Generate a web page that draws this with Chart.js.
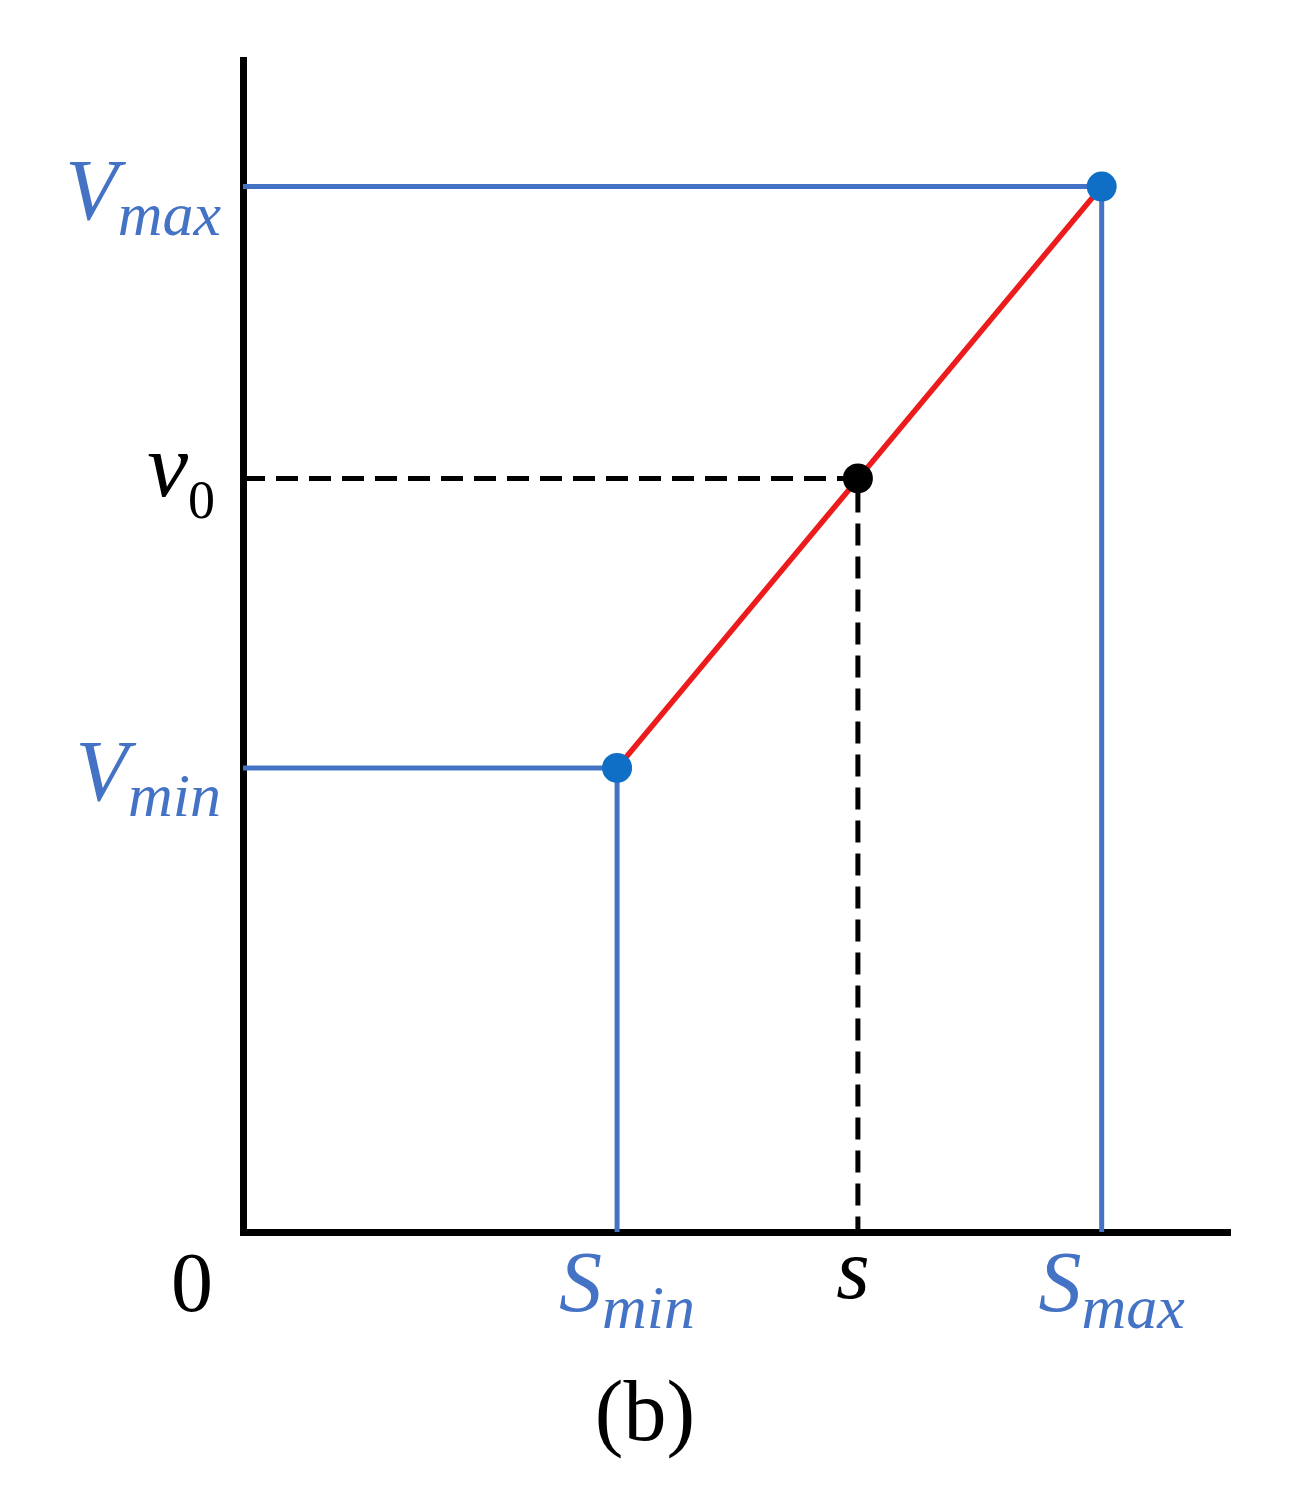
<!DOCTYPE html>
<html lang="en">
<head>
    <meta charset="UTF-8">
    <title>Threshold mapping (b)</title>
    <script src="https://cdn.jsdelivr.net/npm/chart.js@4.4.1/dist/chart.umd.min.js"></script>
    <style>
        body { margin: 0; background: #fff; }
        canvas { display: block; }
    </style>
</head>
<body>
    <canvas id="chart" width="1296" height="1506"></canvas>

    <script>
        // values, axes run 0..100
        const sMin = 37.9, s = 62.3, sMax = 87.0;
        const vMin = 39.6, v0 = 64.3, vMax = 89.2;

        // tick labels (main letter + subscript)
        const xTickValues = [0, sMin, s, sMax];
        const xTickMain = ['0', 'S', 's', 'S'];
        const xTickSub = ['', 'min', '', 'max'];
        const yTickValues = [vMax, v0, vMin];
        const yTickMain = ['V', 'v', 'V'];
        const yTickSub = ['max', '0', 'min'];
        const caption = '(b)';

        const blue = '#4472c4';
        const dotBlue = '#0f6fc6';
        const mainFont = 'italic 86px "Liberation Serif"';
        const subFont = 'italic 62px "Liberation Serif"';

        // draws the hand-set labels from the scales
        const labelPlugin = {
            id: 'labels',
            afterDraw(chart) {
                const ctx = chart.ctx;
                const xs = chart.scales.x, ys = chart.scales.y;
                const area = chart.chartArea;
                ctx.save();
                ctx.textBaseline = 'alphabetic';

                // y labels, right aligned against the axis
                yTickValues.forEach((v, i) => {
                    const py = ys.getPixelForValue(v);
                    const isV0 = yTickSub[i] === '0';
                    const sf = isV0 ? '54px "Liberation Serif"' : subFont;
                    const mf = isV0 ? 'italic 92px "Liberation Serif"' : mainFont;
                    ctx.font = sf;
                    const sw = ctx.measureText(yTickSub[i]).width;
                    ctx.font = mf;
                    const mw = ctx.measureText(yTickMain[i]).width;
                    const right = area.left - (isV0 ? 28 : 22);
                    ctx.fillStyle = isV0 ? '#000' : blue;
                    ctx.textAlign = 'left';
                    ctx.fillText(yTickMain[i], right - sw - mw, py + (isV0 ? 18 : 32));
                    ctx.font = sf;
                    ctx.fillText(yTickSub[i], right - sw, py + (isV0 ? 40 : 48));
                });

                // x labels, centred under their values
                xTickValues.forEach((v, i) => {
                    const px = xs.getPixelForValue(v);
                    const by = area.bottom;
                    ctx.textAlign = 'left';
                    if (xTickMain[i] === '0') {
                        ctx.fillStyle = '#000';
                        ctx.font = '84px "Liberation Serif"';
                        ctx.textAlign = 'center';
                        ctx.fillText('0', area.left - 51, by + 79);
                        return;
                    }
                    if (xTickSub[i] === '') {
                        ctx.fillStyle = '#000';
                        ctx.font = 'italic 86px "Liberation Serif"';
                        ctx.textAlign = 'center';
                        ctx.fillText(xTickMain[i], px - 5, by + 66);
                        return;
                    }
                    ctx.fillStyle = blue;
                    ctx.font = mainFont;
                    const mw = ctx.measureText(xTickMain[i]).width;
                    ctx.font = subFont;
                    const sw = ctx.measureText(xTickSub[i]).width;
                    const left = px + 10 - (mw + sw) / 2;
                    ctx.font = mainFont;
                    ctx.fillText(xTickMain[i], left, by + 79);
                    ctx.font = subFont;
                    ctx.fillText(xTickSub[i], left + mw, by + 96);
                });

                // caption
                ctx.fillStyle = '#000';
                ctx.font = '86px "Liberation Serif"';
                ctx.textAlign = 'center';
                ctx.fillText(caption, chart.width / 2 - 3, 1440);
                ctx.restore();
            }
        };

        const ctx = document.getElementById('chart').getContext('2d');
        new Chart(ctx, {
            type: 'scatter',
            data: {
                datasets: [
                    {
                        // end points
                        data: [{ x: sMin, y: vMin }, { x: sMax, y: vMax }],
                        backgroundColor: dotBlue,
                        borderWidth: 0,
                        pointRadius: 15,
                        showLine: false,
                        order: 0
                    },
                    {
                        data: [{ x: s, y: v0 }],
                        backgroundColor: '#000',
                        borderWidth: 0,
                        pointRadius: 15,
                        showLine: false,
                        order: 0
                    },
                    {
                        // mapping line
                        data: [{ x: sMin, y: vMin }, { x: sMax, y: vMax }],
                        borderColor: '#ec1c1c',
                        borderWidth: 5.5,
                        pointRadius: 0,
                        showLine: true,
                        order: 1
                    },
                    {
                        data: [{ x: 0, y: v0 }, { x: s, y: v0 }, { x: s, y: 0 }],
                        borderColor: '#000',
                        borderWidth: 5,
                        borderDash: [22, 11],
                        pointRadius: 0,
                        showLine: true,
                        order: 2
                    },
                    {
                        data: [{ x: 0, y: vMax }, { x: sMax, y: vMax }, { x: sMax, y: 0 }],
                        borderColor: blue,
                        borderWidth: 5,
                        pointRadius: 0,
                        showLine: true,
                        order: 3
                    },
                    {
                        data: [{ x: 0, y: vMin }, { x: sMin, y: vMin }, { x: sMin, y: 0 }],
                        borderColor: blue,
                        borderWidth: 5,
                        pointRadius: 0,
                        showLine: true,
                        order: 3
                    }
                ]
            },
            options: {
                responsive: false,
                animation: false,
                events: [],
                clip: false,
                layout: { padding: { left: 243, top: 60, right: 66, bottom: 274 } },
                plugins: {
                    legend: { display: false },
                    tooltip: { enabled: false }
                },
                scales: {
                    x: {
                        type: 'linear', min: 0, max: 100,
                        grid: { display: false, drawTicks: false },
                        ticks: { display: false },
                        border: { display: true, color: '#000', width: 7 },
                        afterFit(scale) { scale.height = 0; }
                    },
                    y: {
                        type: 'linear', min: 0, max: 100,
                        grid: { display: false, drawTicks: false },
                        ticks: { display: false },
                        border: { display: true, color: '#000', width: 7 },
                        afterFit(scale) { scale.width = 0; }
                    }
                }
            },
            plugins: [labelPlugin]
        });
    </script>
</body>
</html>
